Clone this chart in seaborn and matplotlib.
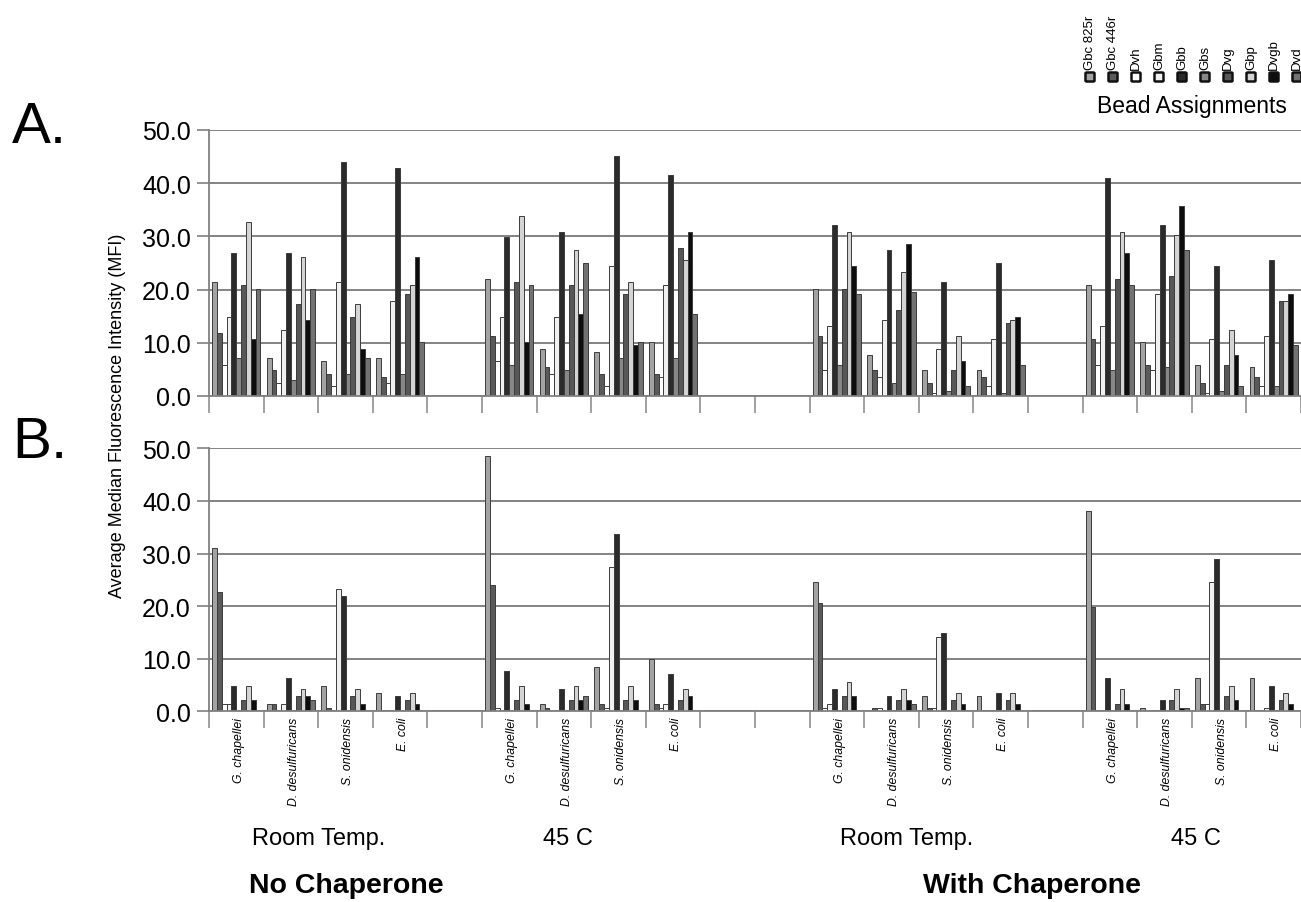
import numpy as np
import pandas as pd
import matplotlib
matplotlib.use("Agg")
import matplotlib.pyplot as plt
import seaborn as sns
from matplotlib import font_manager as fm
from matplotlib.patches import FancyBboxPatch

# ---------------- data ----------------
beads = ["Gbc 825r", "Gbc 446r", "Dvh", "Gbm", "Gbb", "Gbs", "Dvg", "Gbp", "Dvgb", "Dvd"]
bead_colors = ["#a3a3a3", "#5a5a5a", "#ffffff", "#f0f0f0", "#2b2b2b",
               "#878787", "#575757", "#d4d4d4", "#0d0d0d", "#727272"]
species = ["G. chapellei", "D. desulfuricans", "S. onidensis", "E. coli"]
conditions = ["NC-RT", "NC-45", "WC-RT", "WC-45"]
condition_labels = ["Room Temp.", "45 C", "Room Temp.", "45 C"]
chaperone_labels = ["No Chaperone", "With Chaperone"]
gaps_after = [1, 2, 1, 0]

# Panel A: values ordered NC-RT(4 species), NC-45, WC-RT, WC-45
A_gbc825r = [21.4, 7.2, 6.6, 7.2, 22.0, 8.9, 8.3, 10.1, 20.2, 7.8, 4.8, 4.8, 20.9, 10.1, 5.9, 5.4]
A_gbc446r = [11.9, 4.8, 4.2, 3.6, 11.3, 5.4, 4.2, 4.2, 11.3, 4.8, 2.4, 3.6, 10.8, 5.9, 2.4, 3.6]
A_dvh = [5.9, 2.5, 1.8, 2.5, 6.6, 4.2, 1.8, 3.6, 4.8, 3.6, 0.6, 1.8, 5.9, 4.8, 0.6, 1.8]
A_gbm = [14.9, 12.5, 21.4, 17.9, 14.9, 14.9, 24.4, 20.9, 13.1, 14.3, 8.9, 10.8, 13.1, 19.1, 10.8, 11.3]
A_gbb = [26.8, 26.8, 44.0, 42.8, 29.8, 30.9, 45.2, 41.6, 32.1, 27.4, 21.4, 25.0, 41.0, 32.1, 24.4, 25.6]
A_gbs = [7.2, 3.0, 4.2, 4.2, 5.9, 4.8, 7.2, 7.2, 5.9, 2.4, 1.0, 0.6, 4.8, 5.4, 1.0, 1.8]
A_dvg = [20.8, 17.3, 14.9, 19.1, 21.4, 20.9, 19.1, 27.9, 20.2, 16.1, 4.8, 13.7, 22.0, 22.6, 5.9, 17.9]
A_gbp = [32.7, 26.2, 17.3, 20.9, 33.9, 27.4, 21.4, 25.6, 30.9, 23.3, 11.3, 14.3, 30.9, 30.3, 12.5, 17.9]
A_dvgb = [10.8, 14.3, 8.9, 26.2, 10.1, 15.5, 9.5, 30.9, 24.4, 28.6, 6.6, 14.9, 26.8, 35.7, 7.8, 19.1]
A_dvd = [20.2, 20.2, 7.2, 10.1, 20.9, 25.0, 10.1, 15.5, 19.1, 19.6, 1.8, 5.9, 20.9, 27.4, 1.8, 9.5]

# Panel B
B_gbc825r = [31.0, 1.4, 4.9, 3.5, 48.6, 1.4, 8.4, 9.9, 24.6, 0.0, 2.9, 2.9, 38.0, 0.7, 6.3, 6.3]
B_gbc446r = [22.6, 1.4, 0.7, 0.0, 24.0, 0.7, 1.4, 1.4, 20.5, 0.7, 0.7, 0.0, 19.8, 0.0, 1.4, 0.0]
B_dvh = [1.4, 0.0, 0.0, 0.0, 0.7, 0.0, 0.7, 0.7, 0.7, 0.7, 0.7, 0.0, 0.0, 0.0, 1.4, 0.0]
B_gbm = [1.4, 1.4, 23.3, 0.0, 0.0, 0.0, 27.5, 1.4, 1.4, 0.0, 14.1, 0.0, 0.0, 0.0, 24.6, 0.7]
B_gbb = [4.9, 6.3, 21.9, 2.9, 7.7, 4.2, 33.8, 7.0, 4.2, 2.9, 14.8, 3.5, 6.3, 2.2, 28.9, 4.9]
B_gbs = [0.0] * 16
B_dvg = [2.2, 2.9, 2.9, 2.2, 2.2, 2.2, 2.2, 2.2, 2.9, 2.2, 2.2, 2.2, 1.4, 2.2, 2.9, 2.2]
B_gbp = [4.9, 4.2, 4.2, 3.5, 4.9, 4.9, 4.9, 4.2, 5.6, 4.2, 3.5, 3.5, 4.2, 4.2, 4.9, 3.5]
B_dvgb = [2.2, 2.9, 1.4, 1.4, 1.4, 2.2, 2.2, 2.9, 2.9, 2.2, 1.4, 1.4, 1.4, 0.7, 2.2, 1.4]
B_dvd = [0.0, 2.2, 0.0, 0.0, 0.0, 2.9, 0.0, 0.0, 0.0, 1.4, 0.0, 0.0, 0.0, 0.7, 0.0, 0.0]

A_series = [A_gbc825r, A_gbc446r, A_dvh, A_gbm, A_gbb, A_gbs, A_dvg, A_gbp, A_dvgb, A_dvd]
B_series = [B_gbc825r, B_gbc446r, B_dvh, B_gbm, B_gbb, B_gbs, B_dvg, B_gbp, B_dvgb, B_dvd]
yticks = [0, 10, 20, 30, 40, 50]

# ---------------- fonts ----------------
def has_font(name):
    try:
        fm.findfont(fm.FontProperties(family=name), fallback_to_default=False)
        return True
    except Exception:
        return False

BASE = "Liberation Sans" if has_font("Liberation Sans") else "DejaVu Sans"
NARROW_OK = has_font("Liberation Sans Narrow")
NARROW = "Liberation Sans Narrow" if NARROW_OK else BASE

sns.set_theme(style="white")
plt.rcParams["font.family"] = [BASE, "DejaVu Sans"]
plt.rcParams["text.color"] = "black"
plt.rcParams["xtick.labelcolor"] = "black"
plt.rcParams["ytick.labelcolor"] = "black"

# ---------------- categories ----------------
order = []
species_cats = []
gi = 0
for ci, cond in enumerate(conditions):
    for sp in species:
        c = f"{cond}|{sp}"
        order.append(c)
        species_cats.append(c)
    for g in range(gaps_after[ci]):
        order.append(f"gap{gi}")
        gi += 1


def make_df(series):
    rows = []
    for bead, vals in zip(beads, series):
        for cat, v in zip(species_cats, vals):
            rows.append({"cat": cat, "bead": bead, "value": v})
    return pd.DataFrame(rows)


W, H = 1301, 903
fig = plt.figure(figsize=(W / 100, H / 100), dpi=100)
fig.patch.set_facecolor("white")

cat_px = 54.9
left_px = 209
x_right = -0.5 + (W - left_px) / cat_px


def fx(px):
    return px / W


def fy(py):
    return 1 - py / H


palette = dict(zip(beads, bead_colors))
panels = [(A_series, 131, 397), (B_series, 449.3, 712.3)]
axes = []
for series, top_px, bot_px in panels:
    ax = fig.add_axes([fx(left_px), fy(bot_px), 1 - fx(left_px), (bot_px - top_px) / H])
    df = make_df(series)
    sns.barplot(data=df, x="cat", y="value", hue="bead", order=order, hue_order=beads,
                palette=palette, width=0.88, dodge=True, errorbar=None,
                edgecolor="#3c3c3c", linewidth=0.7, saturation=1, legend=False, ax=ax)
    ax.set_xlim(-0.5, x_right)
    ax.set_ylim(0, 50)
    ax.set_yticks(yticks)
    ax.set_yticklabels([f"{t:.1f}" for t in yticks], fontsize=18, family=BASE, color="black")
    ax.yaxis.grid(True, color="#7a7a7a", linewidth=1.3)
    ax.xaxis.grid(False)
    ax.set_axisbelow(True)
    for s in ["top", "right"]:
        ax.spines[s].set_visible(False)
    for s in ["left", "bottom"]:
        ax.spines[s].set_color("#808080")
        ax.spines[s].set_linewidth(1.3)
    ax.tick_params(axis="y", which="major", direction="out", length=9, width=1.2,
                   color="#808080", pad=4, left=True)
    ax.set_xticks(np.arange(-0.5, len(order), 1.0), minor=True)
    ax.tick_params(axis="x", which="minor", direction="out", length=12, width=1.2,
                   color="#909090", bottom=True)
    ax.set_xlabel("")
    ax.set_ylabel("")
    axes.append(ax)

axA, axB = axes
axA.set_xticks([])
axA.set_xticks(np.arange(-0.5, len(order), 1.0), minor=True)
pos = [order.index(c) + 0.05 for c in species_cats]
axB.set_xticks(pos)
axB.set_xticklabels([species[i % 4] for i in range(len(species_cats))], rotation=90,
                    va="top", ha="center", style="italic", family=NARROW, color="black",
                    fontsize=9.6 if NARROW_OK else 8.8)
axB.tick_params(axis="x", which="major", length=0, pad=4)

# y label spanning both panels
fig.text(fx(118), fy(416), "Average Median Fluorescence Intensity (MFI)", rotation=90,
         ha="center", va="center", fontsize=13, color="black")

# panel letters
fig.text(fx(12), fy(143), "A.", fontsize=42, ha="left", va="baseline", color="black")
fig.text(fx(12), fy(458), "B.", fontsize=42, ha="left", va="baseline", color="black")

# condition labels
cond_x = [319, 568, 907, 1196]
for x, lab in zip(cond_x, condition_labels):
    fig.text(fx(x), fy(845), lab, ha="center", va="baseline", family=NARROW, color="black",
             fontsize=19 if NARROW_OK else 17)
for x, lab in zip([346, 1032], chaperone_labels):
    fig.text(fx(x), fy(893), lab, ha="center", va="baseline", family=NARROW, weight="bold",
             color="black", fontsize=24 if NARROW_OK else 20.5)

# bead assignment key
for i, (b, c) in enumerate(zip(beads, bead_colors)):
    cx = 1090 + i * 23.0
    cy = 78
    sq = FancyBboxPatch((fx(cx - 4.5), fy(cy + 4.5)), 9 / W, 9 / H,
                        boxstyle="round,pad=0,rounding_size=0.001",
                        transform=fig.transFigure, facecolor=c, edgecolor="#111111",
                        linewidth=1.8)
    fig.add_artist(sq)
    fig.text(fx(cx), fy(70), b, rotation=90, ha="center", va="bottom", fontsize=9.5,
             color="black")
fig.text(fx(1192), fy(106), "Bead Assignments", ha="center", va="center", fontsize=16.5,
         color="black")

fig.savefig("out.png", dpi=100, facecolor="white")
